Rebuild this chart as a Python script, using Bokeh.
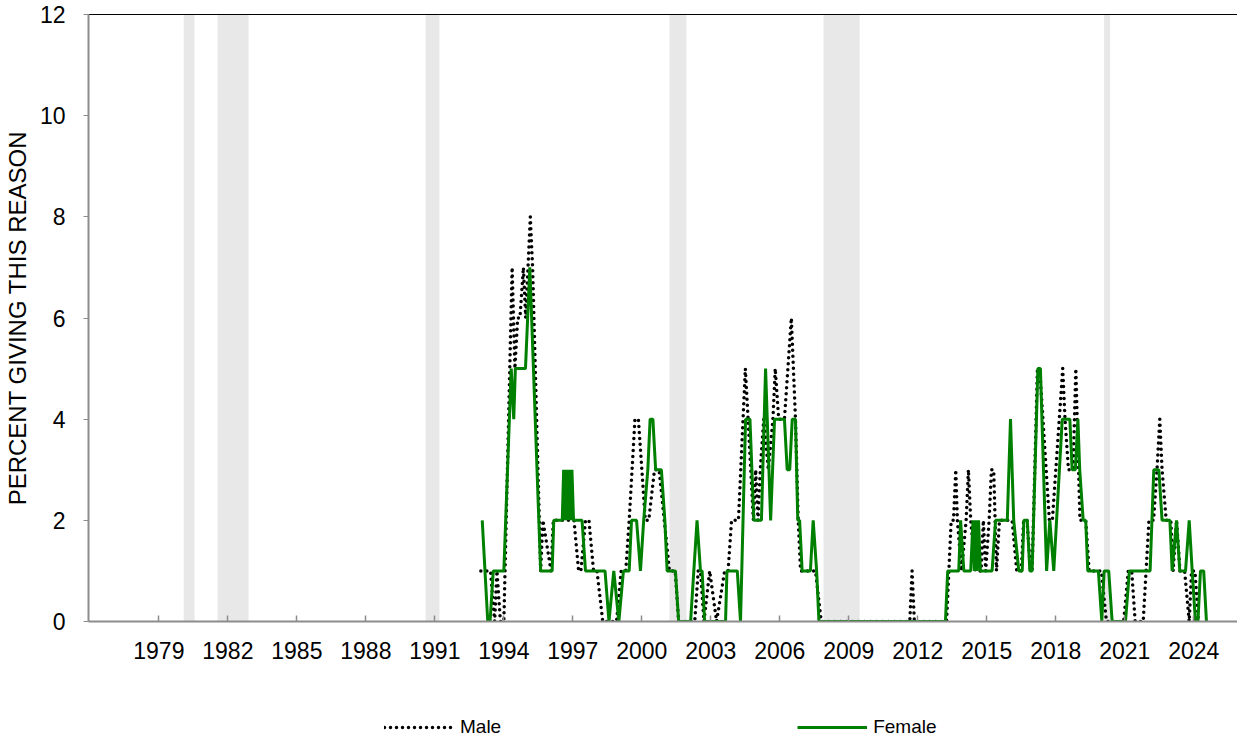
from bokeh.plotting import figure
from bokeh.layouts import column
from bokeh.models import Legend, LegendItem, LinearAxis, FixedTicker, Range1d
from bokeh.embed import file_html
from bokeh.resources import INLINE

tick_years = [1979, 1982, 1985, 1988, 1991, 1994, 1997, 2000, 2003, 2006,
              2009, 2012, 2015, 2018, 2021, 2024]
y_ticks = [0, 2, 4, 6, 8, 10, 12]

rec_start = [1980.08, 1981.55, 1990.6, 2001.2, 2007.9, 2020.1]
rec_end = [1980.55, 1982.9, 1991.2, 2001.94, 2009.47, 2020.36]

female_year = [1993.06, 1993.3, 1993.4, 1993.54, 1994.0, 1994.32, 1994.43, 1994.5,
               1994.94, 1995.13, 1995.6, 1996.1, 1996.17, 1996.54, 1996.6, 1996.66,
               1996.72, 1996.78, 1996.84, 1996.9, 1996.96, 1997.03, 1997.4, 1997.55,
               1998.4, 1998.57, 1998.78, 1999.0, 1999.2, 1999.45, 1999.55, 1999.77,
               1999.94, 2000.08, 2000.26, 2000.36, 2000.48, 2000.6, 2000.85, 2001.0,
               2001.1, 2001.46, 2001.6, 2002.12, 2002.26, 2002.4, 2002.55, 2002.62,
               2002.73, 2003.64, 2003.7, 2004.15, 2004.29, 2004.51, 2004.7, 2004.87,
               2005.2, 2005.38, 2005.6, 2005.77, 2006.2, 2006.32, 2006.43, 2006.54,
               2006.68, 2006.78, 2006.86, 2006.97, 2007.33, 2007.45, 2007.6, 2007.7,
               2013.2, 2013.3, 2013.78, 2013.86, 2014.0, 2014.3, 2014.4, 2014.46,
               2014.52, 2014.58, 2014.64, 2014.72, 2015.23, 2015.38, 2015.89, 2016.03,
               2016.17, 2016.39, 2016.54, 2016.61, 2016.76, 2016.87, 2016.97, 2017.22,
               2017.33, 2017.6, 2017.74, 2017.91, 2018.28, 2018.61, 2018.71, 2018.85,
               2018.96, 2019.04, 2019.19, 2019.3, 2019.39, 2019.85, 2020.0, 2020.1,
               2020.3, 2020.45, 2021.03, 2021.2, 2022.1, 2022.26, 2022.48, 2022.62,
               2022.96, 2023.06, 2023.25, 2023.39, 2023.64, 2023.8, 2023.93, 2024.07,
               2024.18, 2024.29, 2024.43, 2024.55]
female_pct = [2, 0, 0, 1, 1, 5, 4, 5,
              5, 7, 1, 1, 2, 2, 3, 2,
              3, 2, 3, 2, 3, 2, 2, 1,
              1, 0, 1, 0, 1, 1, 2, 2,
              1, 2, 3, 4, 4, 3, 3, 2,
              1, 1, 0, 0, 1, 2, 1, 1,
              0, 0, 1, 1, 0, 4, 4, 2,
              2, 5, 2, 4, 4, 3, 3, 4,
              4, 2, 2, 1, 1, 2, 1, 0,
              0, 1, 1, 2, 1, 1, 2, 1,
              2, 1, 2, 1, 1, 2, 2, 4,
              2, 1, 1, 2, 2, 1, 1, 5,
              5, 1, 2, 1, 4, 4, 3, 3,
              4, 3, 2, 2, 1, 1, 0, 1,
              1, 0, 0, 1, 1, 3, 3, 2,
              2, 1, 2, 1, 1, 2, 1, 0,
              0, 1, 1, 0]

male_year = [1993.0, 1993.42, 1993.6, 1993.7, 1993.85, 1994.0, 1994.36, 1994.48,
             1994.6, 1994.7, 1994.85, 1994.95, 1995.15, 1995.25, 1995.6, 1995.7,
             1996.05, 1996.15, 1997.05, 1997.25, 1997.35, 1997.55, 1997.7, 1997.9,
             1998.05, 1998.3, 1998.9, 1999.1, 1999.3, 1999.45, 1999.7, 1999.85,
             2000.15, 2000.3, 2000.55, 2000.75, 2001.2, 2001.45, 2001.6, 2002.3,
             2002.45, 2002.55, 2002.7, 2002.95, 2003.25, 2003.6, 2003.75, 2003.9,
             2004.2, 2004.5, 2004.62, 2004.85, 2004.95, 2005.05, 2005.15, 2005.3,
             2005.5, 2005.7, 2005.8, 2005.95, 2006.2, 2006.5, 2006.68, 2006.8,
             2006.9, 2007.55, 2007.8, 2011.65, 2011.75, 2011.85, 2013.25, 2013.45,
             2013.55, 2013.65, 2013.72, 2013.9, 2014.1, 2014.2, 2014.3, 2014.5,
             2014.75, 2014.85, 2014.95, 2015.1, 2015.2, 2015.3, 2015.42, 2015.55,
             2016.1, 2016.3, 2016.5, 2016.6, 2016.75, 2016.9, 2016.97, 2017.2,
             2017.3, 2017.72, 2017.85, 2018.3, 2018.4, 2018.55, 2018.75, 2018.87,
             2019.05, 2019.3, 2019.45, 2019.98, 2020.2, 2020.95, 2021.15, 2021.3,
             2021.45, 2021.8, 2022.05, 2022.25, 2022.4, 2022.52, 2022.62, 2022.8,
             2023.0, 2023.1, 2023.25, 2023.4, 2023.6, 2023.8, 2023.9, 2024.05,
             2024.2]
male_pct = [1, 1, 0, 1, 0, 0, 7, 5,
            6, 6, 7, 6, 8, 7, 1, 2,
            1, 2, 2, 1, 1, 2, 2, 1,
            1, 0, 0, 1, 1, 2, 4, 4,
            2, 2, 3, 3, 1, 1, 0, 0,
            1, 1, 0, 1, 0, 1, 1, 2,
            2, 5, 4, 2, 3, 2, 3, 4,
            3, 4, 5, 4, 4, 6, 4, 2,
            1, 1, 0, 0, 1, 0, 0, 2,
            2, 3, 2, 1, 2, 3, 2, 1,
            1, 2, 1, 2, 3, 3, 1, 2,
            2, 1, 1, 2, 2, 1, 1, 5,
            5, 2, 2, 5, 4, 3, 3, 5,
            2, 2, 1, 1, 0, 0, 1, 1,
            0, 0, 2, 2, 3, 4, 3, 2,
            2, 1, 2, 1, 1, 0, 1, 1,
            0]

series_names = ["Male", "Female"]

FONT = "Liberation Sans"
MALE_STYLE = dict(line_color="black", line_width=3.5, line_dash="0 6", line_cap="round")
FEMALE_STYLE = dict(line_color="#008000", line_width=3)

p = figure(width=1237, height=680, output_backend="svg", toolbar_location=None,
           x_range=Range1d(1975.94, 2025.9), y_range=Range1d(0, 12),
           min_border_left=88, min_border_right=0, min_border_top=14,
           min_border_bottom=59, background_fill_color="white",
           border_fill_color="white")
p.outline_line_color = None
p.grid.visible = False

p.quad(left=rec_start, right=rec_end, bottom=0, top=12,
       fill_color="#e8e8e8", line_color=None)

p.line(male_year, male_pct, **MALE_STYLE)
p.line(female_year, female_pct, **FEMALE_STYLE)

xa = p.xaxis[0]
xa.ticker = FixedTicker(ticks=tick_years)
xa.major_tick_in = 6
xa.major_tick_out = 0
xa.minor_tick_line_color = None
xa.axis_line_color = "#8c8c8c"
xa.axis_line_width = 2
xa.major_tick_line_color = "#8c8c8c"
xa.major_tick_line_width = 1.5
xa.major_label_text_font = FONT
xa.major_label_text_font_size = "23px"
xa.major_label_text_color = "black"
xa.major_label_standoff = 20

ya = p.yaxis[0]
ya.ticker = FixedTicker(ticks=y_ticks)
ya.major_tick_in = 0
ya.major_tick_out = 5
ya.minor_tick_line_color = None
ya.axis_line_color = "#8c8c8c"
ya.axis_line_width = 2
ya.major_tick_line_color = "#8c8c8c"
ya.major_label_text_font = FONT
ya.major_label_text_font_size = "23px"
ya.major_label_text_color = "black"
ya.major_label_standoff = 18
ya.axis_label = "PERCENT GIVING THIS REASON"
ya.axis_label_text_font = FONT
ya.axis_label_text_font_size = "24px"
ya.axis_label_text_font_style = "normal"
ya.axis_label_text_color = "black"
ya.axis_label_standoff = 6

top = LinearAxis(ticker=FixedTicker(ticks=[]), axis_line_color="black",
                 axis_line_width=1, major_tick_line_color=None,
                 minor_tick_line_color=None, major_label_text_font_size="0px")
p.add_layout(top, "above")

# legend strip below the chart (series drawn out of view, only legend shows)
lg = figure(width=1237, height=60, output_backend="svg", toolbar_location=None,
            x_range=Range1d(0, 1), y_range=Range1d(100, 101),
            x_axis_type=None, y_axis_type=None,
            min_border=0, min_border_left=0, min_border_right=0,
            min_border_top=0, min_border_bottom=0,
            background_fill_color="white", border_fill_color="white")
lg.outline_line_color = None
lg.grid.visible = False
lm = lg.line(male_year, male_pct, **MALE_STYLE)
lf = lg.line(female_year, female_pct, **FEMALE_STYLE)
legend = Legend(items=[LegendItem(label=series_names[0], renderers=[lm]),
                       LegendItem(label=series_names[1], renderers=[lf])],
                orientation="horizontal", location=(296, 2),
                glyph_width=70, glyph_height=20, label_standoff=6,
                spacing=296, padding=0, margin=0,
                label_text_font=FONT, label_text_font_size="19px",
                label_text_color="black",
                border_line_color=None, background_fill_alpha=0)
lg.add_layout(legend, "center")

layout = column(p, lg, spacing=0)
open("out.html", "w").write(file_html(layout, INLINE))
